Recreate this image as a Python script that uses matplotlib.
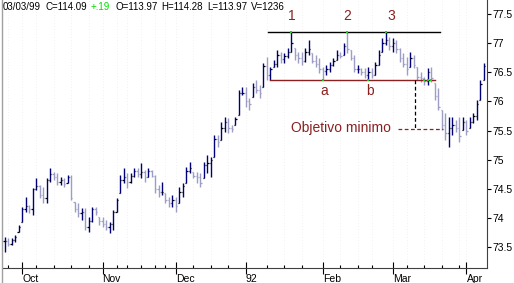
"""
Daily bar chart Oct-Apr with triple top pattern (1, 2, 3), neckline (a, b)
and the minimum objective projection.
"""

import numpy as np
import matplotlib
matplotlib.use('Agg')
import matplotlib.pyplot as plt

plt.rcParams['font.family'] = ['Liberation Sans', 'DejaVu Sans']

# ---- data ----
HIGHS = [
    73.67, 73.66, 73.66, 73.71, 73.88, 74.19, 74.36, 74.22, 74.52, 74.69,
    74.57, 74.53, 74.69, 74.86, 74.79, 74.77, 74.70, 74.69, 74.74, 74.74,
    74.27, 74.26, 74.17, 74.17, 74.02, 74.19, 74.19, 74.02, 74.02, 73.97,
    73.93, 74.14, 74.34, 74.74, 74.86, 74.77, 74.77, 74.86, 74.86, 74.94,
    74.82, 74.86, 74.82, 74.74, 74.57, 74.62, 74.43, 74.36, 74.39, 74.36,
    74.53, 74.60, 74.88, 74.96, 74.79, 74.79, 74.77, 74.96, 75.08, 75.05,
    75.42, 75.42, 75.65, 75.73, 75.72, 75.60, 75.73, 76.20, 76.25, 76.25,
    76.06, 76.32, 76.37, 76.28, 76.66, 76.76, 76.59, 76.71, 76.88, 76.85,
    76.83, 76.92, 77.19, 76.92, 76.85, 76.85, 76.92, 77.05, 76.83, 76.80,
    76.75, 76.59, 76.63, 76.68, 76.75, 76.88, 76.85, 77.00, 77.19, 76.88,
    76.80, 76.63, 76.57, 76.57, 76.59, 76.57, 76.68, 76.88, 77.09, 77.19,
    77.11, 77.09, 77.05, 76.92, 76.83, 76.76, 76.85, 76.80, 76.59, 76.51,
    76.42, 76.57, 76.59, 76.32, 76.23, 75.85, 75.80, 75.73, 75.73, 75.68,
    75.73, 75.73, 75.68, 75.73, 75.80, 76.03, 76.37, 76.66,
]
LOWS = [
    73.42, 73.52, 73.54, 73.59, 73.76, 73.93, 74.10, 74.09, 74.05, 74.48,
    74.34, 74.26, 74.26, 74.62, 74.65, 74.57, 74.57, 74.53, 74.60, 74.31,
    74.10, 74.02, 73.97, 73.79, 73.76, 73.93, 74.05, 73.88, 73.85, 73.79,
    73.74, 73.79, 74.10, 74.43, 74.60, 74.52, 74.60, 74.70, 74.70, 74.69,
    74.62, 74.70, 74.70, 74.43, 74.36, 74.39, 74.26, 74.19, 74.19, 74.10,
    74.26, 74.36, 74.60, 74.77, 74.69, 74.60, 74.53, 74.69, 74.77, 74.70,
    75.05, 75.22, 75.34, 75.48, 75.46, 75.48, 75.60, 75.77, 76.11, 75.90,
    75.85, 76.08, 76.15, 76.06, 76.25, 76.37, 76.37, 76.59, 76.59, 76.66,
    76.66, 76.75, 76.85, 76.71, 76.66, 76.63, 76.68, 76.80, 76.66, 76.59,
    76.49, 76.37, 76.45, 76.51, 76.61, 76.71, 76.75, 76.80, 76.83, 76.71,
    76.51, 76.49, 76.45, 76.40, 76.37, 76.40, 76.45, 76.63, 76.85, 76.97,
    76.88, 76.85, 76.83, 76.68, 76.59, 76.45, 76.59, 76.57, 76.37, 76.33,
    76.28, 76.28, 76.33, 76.03, 75.85, 75.51, 75.34, 75.22, 75.42, 75.48,
    75.30, 75.51, 75.42, 75.54, 75.63, 75.68, 76.03, 76.37,
]
CLOSES = [
    73.60, 73.55, 73.62, 73.68, 73.85, 74.15, 74.20, 74.15, 74.50, 74.55,
    74.40, 74.35, 74.65, 74.75, 74.70, 74.62, 74.65, 74.58, 74.70, 74.35,
    74.15, 74.08, 74.10, 73.85, 73.95, 74.15, 74.10, 73.95, 73.90, 73.85,
    73.90, 74.10, 74.30, 74.65, 74.70, 74.62, 74.72, 74.80, 74.75, 74.78,
    74.70, 74.80, 74.72, 74.50, 74.45, 74.45, 74.30, 74.25, 74.30, 74.20,
    74.45, 74.55, 74.80, 74.85, 74.72, 74.70, 74.60, 74.90, 74.95, 75.00,
    75.35, 75.30, 75.55, 75.65, 75.55, 75.52, 75.70, 76.15, 76.15, 76.00,
    75.95, 76.25, 76.20, 76.15, 76.60, 76.45, 76.55, 76.65, 76.80, 76.72,
    76.78, 76.85, 77.00, 76.80, 76.75, 76.70, 76.85, 76.90, 76.70, 76.65,
    76.55, 76.52, 76.55, 76.62, 76.70, 76.80, 76.78, 76.95, 76.90, 76.75,
    76.55, 76.55, 76.50, 76.45, 76.50, 76.45, 76.62, 76.80, 77.00, 77.05,
    76.95, 77.00, 76.90, 76.75, 76.65, 76.55, 76.75, 76.62, 76.42, 76.40,
    76.35, 76.50, 76.40, 76.10, 75.90, 75.60, 75.45, 75.55, 75.60, 75.55,
    75.40, 75.65, 75.50, 75.65, 75.75, 75.95, 76.30, 76.60,
]

MONTH_POS = [5, 28, 49, 69, 91, 111, 132]
MONTH_LABELS = ['Oct', 'Nov', 'Dec', '92', 'Feb', 'Mar', 'Apr']
WEEK_POS = [1, 9, 14, 19, 24, 32, 35, 39, 43, 46, 54, 59, 64, 75, 80, 85,
            96, 101, 105, 115, 120, 125, 130]
Y_TICKS = [73.5, 74, 74.5, 75, 75.5, 76, 76.5, 77, 77.5]

# pattern annotations
TOP_LEVEL = 77.19
NECK_LEVEL = 76.37
TARGET_LEVEL = 75.52
PEAK_IDX = [82, 98, 109]
TROUGH_IDX = [91, 104]
BREAK_IDX = [120, 121, 122]

W, H = 514, 283
fig = plt.figure(figsize=(W / 100, H / 100), dpi=100, facecolor='white')
ax = fig.add_axes([3 / W, 1 - 268 / H, 484 / W, 268 / H], facecolor='white')

highs = np.array(HIGHS)
lows = np.array(LOWS)
closes = np.array(CLOSES)
n = len(closes)
idx = np.arange(n)
opens = np.clip(np.concatenate([[closes[0]], closes[:-1]]), lows, highs)
up = closes >= opens

dark = '#00007a'
light = '#9d9dc6'
cols = np.where(up, dark, light)

ax.vlines(idx, lows, highs, colors=cols, lw=1.0)
ax.hlines(opens, idx - 0.4, idx, colors=np.where(up, 'black', light), lw=0.9)
ax.hlines(closes, idx, idx + 0.4, colors=np.where(up, 'black', light), lw=0.9)

# faint dotted grid
for p in WEEK_POS + MONTH_POS:
    ax.axvline(p, color='#e6e6e6', lw=0.5, ls=(0, (1, 3)), zorder=0)

red = '#8c2020'
# resistance line and neckline
ax.plot([75.3, 124.4], [TOP_LEVEL, TOP_LEVEL], color='black', lw=1.0)
ax.plot([75.8, 123.0], [NECK_LEVEL, NECK_LEVEL], color=red, lw=1.0)
ax.plot(PEAK_IDX, [TOP_LEVEL] * 3, 's', color='#22cc22', ms=1.6, mew=0)
ax.plot(TROUGH_IDX, [NECK_LEVEL] * 2, 's', color='#22cc22', ms=1.6, mew=0)
ax.plot(BREAK_IDX, [NECK_LEVEL] * 3, 's', color='#22cc22', ms=1.6, mew=0)

for k, i in enumerate(PEAK_IDX):
    ax.text(i + (1.5 if k == 2 else 0), 77.46, str(k + 1), color=red,
            fontsize=10, ha='center', va='center')
ax.text(91.5, 76.18, 'a', color=red, fontsize=10, ha='center', va='center')
ax.text(104.5, 76.18, 'b', color=red, fontsize=10, ha='center', va='center')

# minimum objective projection
ax.plot([117.3, 117.3], [NECK_LEVEL, TARGET_LEVEL], color='black', lw=0.9,
        ls=(0, (3, 2)))
ax.plot([112.5, 125.3], [TARGET_LEVEL, TARGET_LEVEL], color=red, lw=0.9,
        ls=(0, (3, 2)))
ax.text(82.0, TARGET_LEVEL + 0.02, 'Objetivo minimo', color=red, fontsize=10,
        ha='left', va='center')

ax.set_xlim(-0.43, 137.86)
ax.set_ylim(73.14, 77.74)

ax.spines['top'].set_visible(False)
ax.spines['left'].set_visible(False)
ax.spines['right'].set_color('#404040')
ax.spines['bottom'].set_color('#404040')

ax.yaxis.tick_right()
ax.set_yticks(Y_TICKS)
ax.set_yticklabels([f'{v:g}' for v in Y_TICKS])
ax.tick_params(axis='y', direction='out', length=3, width=0.8, pad=1,
               labelsize=7.5, colors='black')

ax.set_xticks(MONTH_POS)
ax.set_xticklabels(MONTH_LABELS, ha='left')
ax.set_xticks(WEEK_POS, minor=True)
ax.tick_params(axis='x', which='major', direction='inout', length=8,
               width=0.8, pad=0, labelsize=7.5)
ax.tick_params(axis='x', which='minor', direction='in', length=2, width=0.8)

# window border on the left
fig.add_artist(plt.Line2D([1.5 / W, 1.5 / W], [0, 1], color='#a0a0a0',
                          lw=1.0))

# header line
header = [(3, '03/03/99', 'black'), (46, 'C=114.09', 'black'),
          (91, '+.19', '#00dd00'), (116, 'O=113.97', 'black'),
          (161, 'H=114.28', 'black'), (207, 'L=113.97', 'black'),
          (251, 'V=1236', 'black')]
for px, txt, c in header:
    fig.text(px / W, 1 - 7 / H, txt, color=c, fontsize=7, ha='left',
             va='center')

fig.savefig('out.png', dpi=100, facecolor='white')
